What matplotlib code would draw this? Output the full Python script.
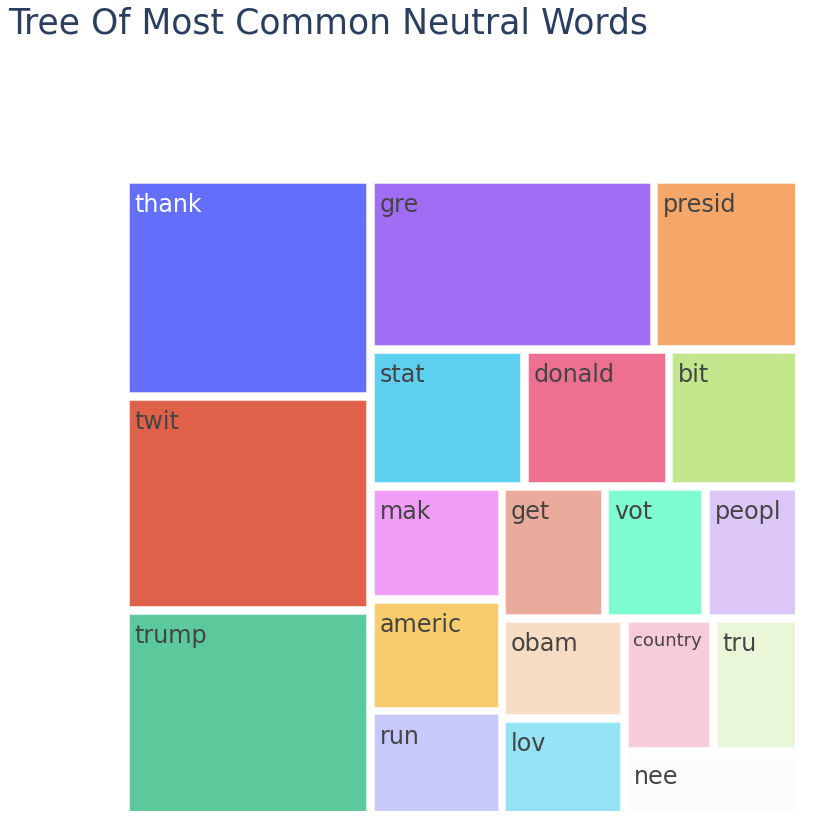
import numpy as np
import matplotlib
matplotlib.use("Agg")
import matplotlib.pyplot as plt
from matplotlib.patches import Rectangle

# word counts, in the order plotly laid them out
words = ["thank", "twit", "trump", "gre", "presid", "stat", "donald", "bit",
         "mak", "americ", "run", "get", "vot", "peopl", "obam", "lov",
         "country", "tru", "nee"]
counts = [532, 524, 501, 482, 247, 210, 198, 178,
          149, 147, 137, 136, 133, 124, 123, 118, 118, 114, 112]
colors = ["#636efa", "#e0614a", "#5bc99c", "#a06ef5", "#f4a769", "#5ecfee",
          "#ee7090", "#c2e68c", "#f09ef8", "#f7cc6c", "#c6c9f9", "#ebab9c",
          "#7ffccf", "#dcc6f8", "#f9dcc4", "#94e4f6", "#f7ccd8", "#eaf6d8",
          "#fefbfe"]
text_colors = ["white"] + ["#444444"] * 18
font_sizes = [17.2] * 16 + [13, 17.2, 17.2]


def squarify(values, x0, y0, x1, y1, ratio=1.0):
    # d3-hierarchy treemapSquarify, y grows downward
    out = []
    n = len(values)
    total = float(sum(values))
    i0 = i1 = 0
    while i0 < n:
        dx, dy = x1 - x0, y1 - y0
        s = values[i1]
        i1 += 1
        mn = mx = s
        alpha = max(dy / dx, dx / dy) / (total * ratio)
        beta = s * s * alpha
        min_ratio = max(mx / beta, beta / mn)
        while i1 < n:
            v = values[i1]
            s += v
            mn, mx = min(mn, v), max(mx, v)
            beta = s * s * alpha
            r = max(mx / beta, beta / mn)
            if r > min_ratio:
                s -= v
                break
            min_ratio = r
            i1 += 1
        row = values[i0:i1]
        if dx < dy:
            h = dy * s / total
            cx = x0
            for v in row:
                w = dx * v / s
                out.append((cx, y0, w, h))
                cx += w
            y0 += h
        else:
            w = dx * s / total
            cy = y0
            for v in row:
                h = dy * v / s
                out.append((x0, cy, w, h))
                cy += h
            x0 += w
        total -= s
        i0 = i1
    return out


W, H = 826, 838
fig = plt.figure(figsize=(W / 100, H / 100), dpi=100)
left, right, top, bottom = 129, 795, 183, 810.7
ax = fig.add_axes([left / W, 1 - bottom / H, (right - left) / W, (bottom - top) / H])
pw, ph = right - left, bottom - top
gap = 7.7
ax.set_xlim(0, pw)
ax.set_ylim(ph, 0)
ax.axis("off")

rects = squarify(counts, -gap / 2, -gap / 2, pw + gap / 2, ph + gap / 2)
for (x, y, w, h), word, c, tc, fs in zip(rects, words, colors, text_colors, font_sizes):
    ax.add_patch(Rectangle((x + gap / 2, y + gap / 2), w - gap, h - gap,
                           facecolor=c, edgecolor=(1, 1, 1, 0.45), linewidth=0.8))
    dy = -21 if fs > 14 else -17.5
    ax.annotate(word, (x + gap / 2, y + gap / 2), xytext=(4, dy),
                textcoords="offset points", color=tc, fontsize=fs,
                ha="left", va="baseline", family="DejaVu Sans")

fig.text(8 / W, 1 - 34 / H, "Tree Of Most Common Neutral Words",
         fontsize=24.9, color="#2a3f5f", ha="left", va="baseline",
         family="DejaVu Sans")

fig.savefig("out.png", dpi=100)
